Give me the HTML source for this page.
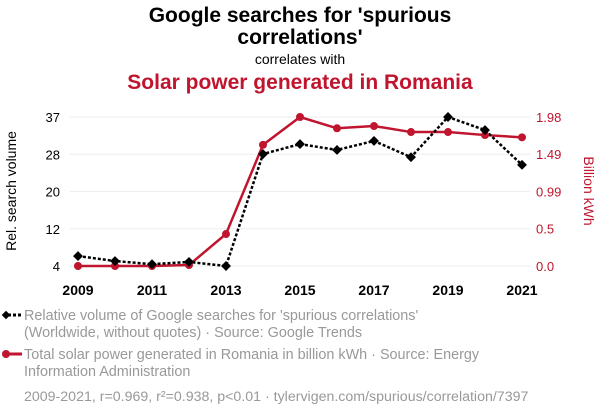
<!DOCTYPE html>
<html><head><meta charset="utf-8"><style>
body{margin:0;background:#fff;font-family:"Liberation Sans",sans-serif;}
svg text{font-family:"Liberation Sans",sans-serif;}
</style></head><body>
<svg id="c" width="600" height="414">
<text x="300" y="22" text-anchor="middle" font-size="21" font-weight="bold" fill="#000">Google searches for 'spurious</text>
<text x="300" y="44" text-anchor="middle" font-size="21" font-weight="bold" fill="#000">correlations'</text>
<text x="300" y="64" text-anchor="middle" font-size="14" fill="#000">correlates with</text>
<text x="300" y="89" text-anchor="middle" font-size="21" font-weight="bold" fill="#c0152f">Solar power generated in Romania</text>
<text transform="translate(16,191) rotate(-90)" text-anchor="middle" font-size="14" fill="#000">Rel. search volume</text>
<text transform="translate(584,191) rotate(90)" text-anchor="middle" font-size="14" fill="#c0152f">Billion kWh</text>
<g id="grid"></g><g id="axes"></g><g id="series"></g>
<g>
<line x1="3" y1="315" x2="22" y2="315" stroke="#000" stroke-width="3" stroke-dasharray="3,2"/>
<rect x="3" y="312" width="6" height="6" transform="rotate(45 6 315)" fill="#000"/>
<text x="24" y="320" font-size="14.4" fill="#999">Relative volume of Google searches for 'spurious correlations'</text>
<text x="24" y="337" font-size="14.4" fill="#999">(Worldwide, without quotes) · Source: Google Trends</text>
<line x1="3" y1="354" x2="22" y2="354" stroke="#c0152f" stroke-width="3"/>
<circle cx="6" cy="354" r="4" fill="#c0152f"/>
<text x="24" y="359" font-size="14.4" fill="#999">Total solar power generated in Romania in billion kWh · Source: Energy</text>
<text x="24" y="376" font-size="14.4" fill="#999">Information Administration</text>
<text x="24" y="401" font-size="14.2" fill="#999">2009-2021, r=0.969, r²=0.938, p&lt;0.01 · tylervigen.com/spurious/correlation/7397</text>
</g>
</svg>
<script>
const years=[2009,2010,2011,2012,2013,2014,2015,2016,2017,2018,2019,2020,2021];
const searches=[6.2,5.1,4.4,4.9,4,28.8,31,29.7,31.7,28.1,37,34.1,26.4];
const solar=[0,0,0,0.013,0.425,1.61,1.98,1.83,1.86,1.78,1.78,1.74,1.71];
const leftTicks=[4,12.25,20.5,28.75,37];
const rightTicks=[0,0.5,0.99,1.49,1.98];
const xTicks=[2009,2011,2013,2015,2017,2019,2021];
const NS="http://www.w3.org/2000/svg";
const x=v=>78+(v-2009)*37;
const yL=v=>266-(v-4)/33*149;
const yR=v=>266-v/1.98*149;
function mk(tag,attrs,parent){const e=document.createElementNS(NS,tag);for(const k in attrs)e.setAttribute(k,attrs[k]);document.getElementById(parent).appendChild(e);return e;}
leftTicks.forEach((t,i)=>{
 const g=mk('line',{x1:70,x2:530,y1:yL(t),y2:yL(t),stroke:'#eee'},'grid');
 
 
 const l=mk('text',{x:60,y:yL(t)+5,'text-anchor':'end','font-size':13,fill:'#000'},'axes');l.textContent=Math.floor(t);
 
 
});
rightTicks.forEach(t=>{
 const l=mk('text',{x:536,y:yR(t)+5,'font-size':13,fill:'#c0152f'},'axes');l.textContent=t.toFixed(t===0?1:2).replace('0.50','0.5');
 
 
});
xTicks.forEach(t=>{
 const l=mk('text',{x:x(t),y:295,'text-anchor':'middle','font-size':14,'font-weight':'bold',fill:'#000'},'axes');l.textContent=t;
 
 
});
const rp=mk('polyline',{points:years.map((y,i)=>x(y)+','+yR(solar[i])).join(' '),fill:'none',stroke:'#c0152f','stroke-width':2.5},'series');


const bp=mk('polyline',{points:years.map((y,i)=>x(y)+','+yL(searches[i])).join(' '),fill:'none',stroke:'#000','stroke-width':2.5,'stroke-dasharray':'3,2'},'series');


years.forEach((y,i)=>{
 const c=mk('circle',{cx:x(y),cy:yR(solar[i]),r:4,fill:'#c0152f'},'series');
 
 
 const d=mk('rect',{x:x(y)-3.5,y:yL(searches[i])-3.5,width:7,height:7,fill:'#000',transform:`rotate(45 ${x(y)} ${yL(searches[i])})`},'series');
 
 
});
</script>
</body></html>
